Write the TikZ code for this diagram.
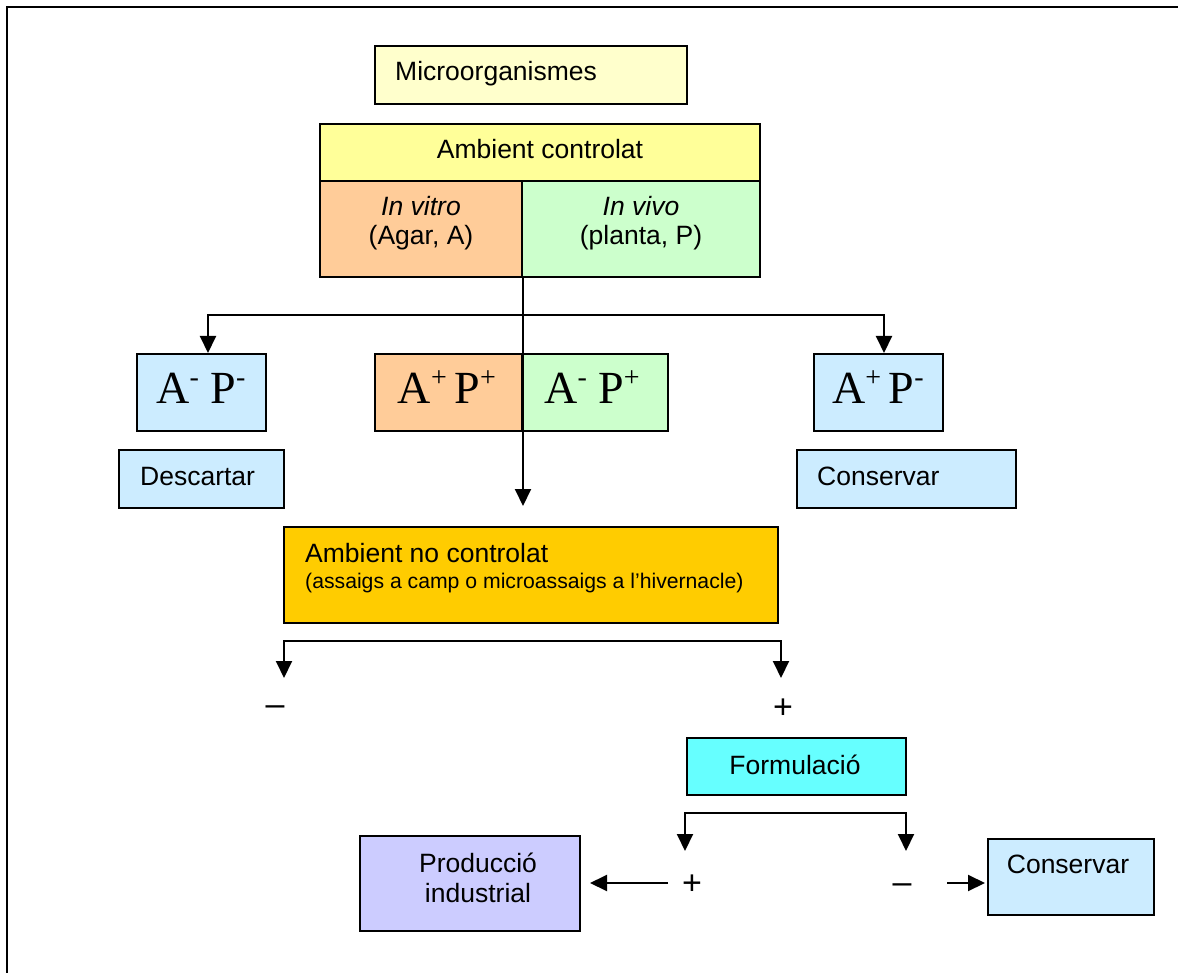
\documentclass[tikz,border=0pt]{standalone}
\usepackage{fontspec}
\setmainfont{Liberation Sans}
\newfontfamily\apfont{Liberation Serif}
\usetikzlibrary{arrows.meta}

\definecolor{cMicro}{HTML}{FFFFCC}
\definecolor{cAmbient}{HTML}{FFFF99}
\definecolor{cVitro}{HTML}{FFCC99}
\definecolor{cVivo}{HTML}{CCFFCC}
\definecolor{cBlue}{HTML}{CCECFF}
\definecolor{cField}{HTML}{FFCC00}
\definecolor{cForm}{HTML}{66FFFF}
\definecolor{cProd}{HTML}{CCCCFF}

\newcommand\mainsz{\fontsize{26.5}{31}\selectfont}
\newcommand\smallsz{\fontsize{21.2}{25}\selectfont}
\newcommand\signsz{\fontsize{34}{40}\selectfont}
\newcommand\apsz{\fontsize{46}{50}\selectfont}
\newcommand\apsup[1]{\raisebox{17pt}{\fontsize{28}{28}\selectfont #1}}

\begin{document}
\begin{tikzpicture}[x=1pt,y=-1pt,
  box/.style={draw=black, line width=2pt, inner sep=0pt, anchor=north west},
  lbl/.style={inner sep=0pt, font=\mainsz},
  sign/.style={inner sep=0pt, font=\signsz, anchor=base},
  aplbl/.style={inner sep=0pt, font=\apsz\apfont},
  tip/.tip={Triangle[length=17pt,width=16pt]},
  conn/.style={line width=2pt, -tip},
  connboth/.style={line width=2pt, tip-tip}]

\useasboundingbox (0,0) rectangle (1178,973);
\fill[white] (0,0) rectangle (1178,973);

% page frame
\draw[line width=2.5pt] (7,973) -- (7,7) -- (1178,7);

% top blocks
\node[box, fill=cMicro, minimum width=312pt, minimum height=58pt] (micro) at (374,45) {};
\node[lbl, anchor=base west] (tmicro) at (395,81) {Microorganismes};

\node[box, fill=cAmbient, minimum width=440pt, minimum height=57pt] (amb) at (319,123) {};
\node[lbl, anchor=base] (tamb) at (540,159) {Ambient controlat};

\node[box, fill=cVitro, minimum width=202pt, minimum height=96pt] (vitro) at (319,180) {};
\node[box, fill=cVivo, minimum width=238pt, minimum height=96pt] (vivo) at (521,180) {};
\node[lbl, anchor=base] (tvitro1) at (421,216) {\itshape In vitro};
\node[lbl, anchor=base] (tvitro2) at (421,245) {(Agar, A)};
\node[lbl, anchor=base] (tvivo1) at (641,216) {\itshape In vivo};
\node[lbl, anchor=base] (tvivo2) at (641,245) {(planta, P)};

% result boxes
\node[box, fill=cBlue, minimum width=129pt, minimum height=77pt] (amm) at (136,353) {};
\node[aplbl, anchor=base] (tamm) at (201,403) {A\apsup{-} P\apsup{-}};

\node[box, fill=cVitro, minimum width=147pt, minimum height=77pt] (app) at (374,353) {};
\node[aplbl, anchor=base] (tapp) at (447,403) {A\apsup{+}\,P\apsup{+}};
\node[box, fill=cVivo, minimum width=146pt, minimum height=77pt] (amp) at (521,353) {};
\node[aplbl, anchor=base] (tamp) at (592,403) {A\apsup{-} P\apsup{+}};

\node[box, fill=cBlue, minimum width=129pt, minimum height=77pt] (apm) at (813,353) {};
\node[aplbl, anchor=base] (tapm) at (878,403) {A\apsup{+}\,P\apsup{-}};

\node[box, fill=cBlue, minimum width=165pt, minimum height=58pt] (desc) at (118,449) {};
\node[lbl, anchor=base west] (tdesc) at (140,485) {Descartar};
\node[box, fill=cBlue, minimum width=219pt, minimum height=58pt] (cons) at (796,449) {};
\node[lbl, anchor=base west] (tcons) at (817,485) {Conservar};

% uncontrolled environment
\node[box, fill=cField, minimum width=494pt, minimum height=96pt] (field) at (283,526) {};
\node[lbl, anchor=base west] (tfield1) at (305,562) {Ambient no controlat};
\node[lbl, font=\smallsz, anchor=base west] (tfield2) at (305,588) {(assaigs a camp o microassaigs a l’hivernacle)};

% formulation stage
\node[box, fill=cForm, minimum width=219pt, minimum height=57pt] (form) at (686,737) {};
\node[lbl, anchor=base] (tform) at (795,774) {Formulació};

\node[box, fill=cProd, minimum width=220pt, minimum height=95pt] (prod) at (359,835) {};
\node[lbl, anchor=base] (tprod1) at (478,872) {Producció};
\node[lbl, anchor=base] (tprod2) at (478,902) {industrial};

\node[box, fill=cBlue, minimum width=166pt, minimum height=76pt] (cons2) at (987,838) {};
\node[lbl, anchor=base] (tcons2) at (1068,873) {Conservar};

% signs
\node[sign] (sminus1) at (275,715) {–};
\node[sign] (splus1) at (783,718) {+};
\node[sign] (splus2) at (692,894) {+};
\node[sign] (sminus2) at (902,893) {–};

% connectors: first split
\coordinate (j1) at (vitro.south east |- 0,315);
\draw[conn] (j1) -| (208,353);
\draw[conn] (j1) -| (884,353);
\draw[conn, shorten >=20pt] (vitro.south east) -- (vitro.south east |- field.north);

% connectors: field trial outcome
\coordinate (k1) at (284,678);
\coordinate (k4) at (781,678);
\draw[connboth] (k1) |- (532,641) -| (k4);

% connectors: formulation outcome
\coordinate (f1) at (685,851);
\coordinate (f4) at (906,851);
\draw[connboth] (f1) |- (795,813) -| (f4);

\coordinate (pa) at (668,883);
\draw[conn, shorten >=9pt] (pa) -- (prod.east |- pa);
\coordinate (pb) at (947,883);
\draw[conn, shorten >=2pt] (pb) -- (cons2.west |- pb);

\end{tikzpicture}
\end{document}
